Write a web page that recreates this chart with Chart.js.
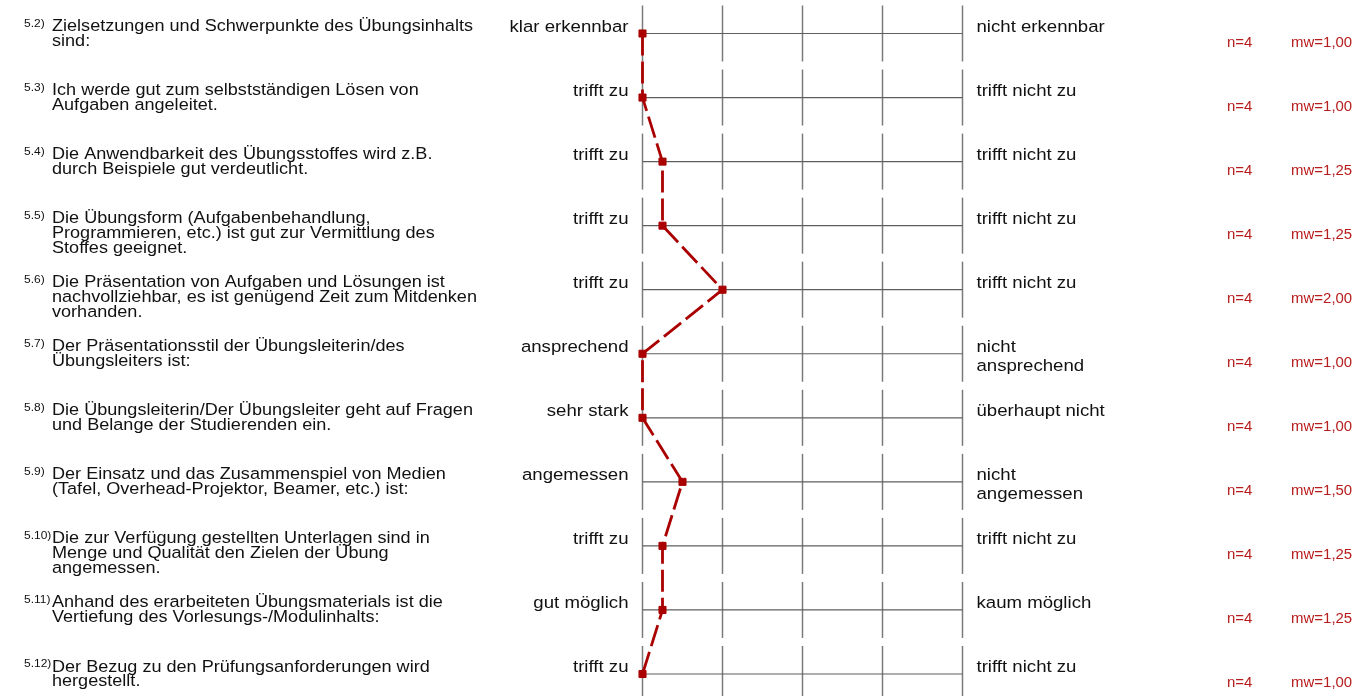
<!DOCTYPE html>
<html>
<head>
<meta charset="utf-8">
<script src="https://cdn.jsdelivr.net/npm/chart.js@4"></script>
<style>
body{margin:0;background:#fff}
.wrap{position:relative;width:1362px;height:696px}
</style>
</head>
<body>
<div class="wrap"><canvas id="profil"></canvas></div>
<script>
const nums=['5.2)','5.3)','5.4)','5.5)','5.6)','5.7)','5.8)','5.9)','5.10)','5.11)','5.12)']
const questions=[
  ['Zielsetzungen und Schwerpunkte des Übungsinhalts','sind:'],
  ['Ich werde gut zum selbstständigen Lösen von','Aufgaben angeleitet.'],
  ['Die Anwendbarkeit des Übungsstoffes wird z.B.','durch Beispiele gut verdeutlicht.'],
  ['Die Übungsform (Aufgabenbehandlung,','Programmieren, etc.) ist gut zur Vermittlung des','Stoffes geeignet.'],
  ['Die Präsentation von Aufgaben und Lösungen ist','nachvollziehbar, es ist genügend Zeit zum Mitdenken','vorhanden.'],
  ['Der Präsentationsstil der Übungsleiterin/des','Übungsleiters ist:'],
  ['Die Übungsleiterin/Der Übungsleiter geht auf Fragen','und Belange der Studierenden ein.'],
  ['Der Einsatz und das Zusammenspiel von Medien','(Tafel, Overhead-Projektor, Beamer, etc.) ist:'],
  ['Die zur Verfügung gestellten Unterlagen sind in','Menge und Qualität den Zielen der Übung','angemessen.'],
  ['Anhand des erarbeiteten Übungsmaterials ist die','Vertiefung des Vorlesungs-/Modulinhalts:'],
  ['Der Bezug zu den Prüfungsanforderungen wird','hergestellt.']
]
const leftLabels=['klar erkennbar','trifft zu','trifft zu','trifft zu','trifft zu','ansprechend','sehr stark','angemessen','trifft zu','gut möglich','trifft zu']
const rightLabels=[['nicht erkennbar'],['trifft nicht zu'],['trifft nicht zu'],['trifft nicht zu'],['trifft nicht zu'],['nicht','ansprechend'],['überhaupt nicht'],['nicht','angemessen'],['trifft nicht zu'],['kaum möglich'],['trifft nicht zu']]
const nValues=[4,4,4,4,4,4,4,4,4,4,4]
const means=[1.00,1.00,1.25,1.25,2.00,1.00,1.00,1.50,1.25,1.25,1.00]
const scaleTicks=[1,2,3,4,5]

const FONT='"Liberation Sans", Arial, sans-serif'
const RED='#aa0000'
const STRETCH=1.07 // the original text is a little wider than it is tall

function txt(ctx,s,x,y,align){
  ctx.save()
  ctx.translate(x,y)
  ctx.scale(STRETCH,1)
  ctx.textAlign=align||'left'
  ctx.fillText(s,0,0)
  ctx.restore()
}

// grid + all the texts, positioned off the scales
const profilPlugin={
  id:'profil',
  beforeDatasetsDraw(chart){
    const {ctx,scales:{x,y}}=chart
    ctx.save()
    questions.forEach((q,i)=>{
      const yy=y.getPixelForValue(i)
      ctx.strokeStyle='#7a7a7a'
      ctx.lineWidth=1.5
      scaleTicks.forEach(t=>{
        const xx=x.getPixelForValue(t)
        ctx.beginPath()
        ctx.moveTo(xx,yy-28)
        ctx.lineTo(xx,yy+28)
        ctx.stroke()
      })
      ctx.strokeStyle='#5f5f5f'
      ctx.lineWidth=1.2
      ctx.beginPath()
      ctx.moveTo(x.getPixelForValue(scaleTicks[0]),yy)
      ctx.lineTo(x.getPixelForValue(scaleTicks[scaleTicks.length-1]),yy)
      ctx.stroke()
    })
    ctx.restore()
  },
  afterDraw(chart){
    const {ctx,scales:{x,y}}=chart
    const x1=x.getPixelForValue(scaleTicks[0])
    const x5=x.getPixelForValue(scaleTicks[scaleTicks.length-1])
    ctx.save()
    ctx.textBaseline='alphabetic'
    questions.forEach((q,i)=>{
      const yy=y.getPixelForValue(i)
      ctx.fillStyle='#111'
      ctx.font='11.2px '+FONT
      txt(ctx,nums[i],24,yy-7)
      ctx.font='16.9px '+FONT
      q.forEach((line,k)=>txt(ctx,line,52,yy-2.5+k*14.9))
      ctx.font='17.4px '+FONT
      txt(ctx,leftLabels[i],x1-14,yy-2,'right')
      rightLabels[i].forEach((line,k)=>txt(ctx,line,x5+14,yy-2+k*19.5))
      ctx.fillStyle='#b81c1c'
      ctx.font='14px '+FONT
      txt(ctx,'n='+nValues[i],1227,yy+13)
      txt(ctx,'mw='+means[i].toFixed(2).replace('.',','),1291,yy+13)
    })
    ctx.restore()
  }
}

new Chart(document.getElementById('profil'),{
  type:'line',
  data:{
    datasets:[{
      data:means.map((m,i)=>({x:m,y:i})),
      borderColor:RED,
      backgroundColor:RED,
      borderWidth:2.8,
      borderDash:[22,6],
      pointStyle:'rect',
      pointRadius:5,
      pointBorderWidth:1,
      pointBorderColor:RED,
      pointBackgroundColor:RED,
      tension:0,
      clip:false
    }]
  },
  options:{
    responsive:true,
    maintainAspectRatio:false,
    animation:false,
    layout:{padding:{left:642.5,right:399.5,top:33.5,bottom:22}},
    scales:{
      x:{type:'linear',min:1,max:5,display:false},
      y:{type:'linear',min:0,max:10,reverse:true,display:false}
    },
    plugins:{legend:{display:false},tooltip:{enabled:false}}
  },
  plugins:[profilPlugin]
})
</script>
</body>
</html>
